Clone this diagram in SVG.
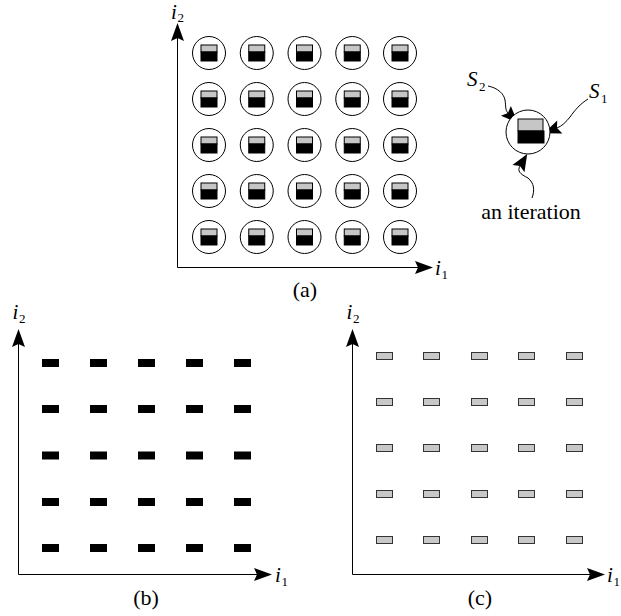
<svg xmlns="http://www.w3.org/2000/svg" width="621" height="616" viewBox="0 0 621 616">
  <style>
    .ax { fill: none; stroke: #000; stroke-width: 1; marker-start: url(#axHead); marker-end: url(#axHead); }
    .lead { fill: none; stroke: #000; stroke-width: 1; marker-end: url(#leadHead); }
    .ring { fill: #fff; stroke: #000; stroke-width: 1; }
    .s2 { fill: #c6c6c6; stroke: #000; stroke-width: 1; }
    .s1 { fill: #000; stroke: #000; stroke-width: 1; }
    .bb { fill: #000; }
    .cc { fill: #c8c8c8; stroke: #333; stroke-width: 1; }
    text { font-family: "Liberation Serif", "Times New Roman", Times, "DejaVu Serif", serif; fill: #000; }
    .var { font-style: italic; font-size: 21px; }
    .sub { font-size: 13px; }
    .cap { font-size: 22px; text-anchor: middle; }
    .note { font-size: 22px; text-anchor: middle; }
  </style>
  <defs>
    <!-- notched arrowhead; reference point sits at the notch -->
    <marker id="axHead" viewBox="-4 -8 21 16" refX="0" refY="0" markerWidth="21" markerHeight="16" orient="auto-start-reverse" markerUnits="userSpaceOnUse">
      <path d="M-3,-6.5 L15,0 L-3,6.5 L0,0 Z" fill="#000"/>
    </marker>
    <marker id="leadHead" viewBox="-4 -8 21 16" refX="0" refY="0" markerWidth="21" markerHeight="16" orient="auto" markerUnits="userSpaceOnUse">
      <path d="M-3,-7 L14,0 L-3,7 L0,0 Z" fill="#000"/>
    </marker>
    <g id="iter">
      <circle class="ring" r="16.5"/>
      <rect class="s2" x="-8" y="-8" width="16" height="7"/>
      <rect class="s1" x="-8" y="-1" width="16" height="9"/>
    </g>
    <rect id="bs" class="bb" width="17" height="8"/>
    <rect id="cs" class="cc" width="16" height="7"/>
  </defs>

  <!-- axes -->
  <g id="connectors">
    <path class="ax" d="M177.5,38 V267.5 H418"/>
    <path class="ax" d="M18.5,344 V574.5 H257"/>
    <path class="ax" d="M352.5,344 V574.5 H590"/>
    <!-- leaders of the legend -->
    <path class="lead" d="M488,86 C498,88 504,94 505,100 C506,106 505,110 508,113"/>
    <path class="lead" d="M588,99 C580,104 575,110 570,117 C566,122 562,126 557,128"/>
    <path class="lead" d="M532,198 C535,190 534,183 528,178 C520,174 517,171 520,166"/>
  </g>

  <!-- axis labels -->
  <g id="labels">
    <text class="var" x="171" y="19">i</text><text class="sub" x="177.5" y="22">2</text>
    <text class="var" x="435" y="275">i</text><text class="sub" x="441.5" y="279">1</text>
    <text class="var" x="12.5" y="319">i</text><text class="sub" x="19" y="323">2</text>
    <text class="var" x="275" y="582">i</text><text class="sub" x="281.5" y="586">1</text>
    <text class="var" x="346.5" y="319">i</text><text class="sub" x="353" y="323">2</text>
    <text class="var" x="607" y="582">i</text><text class="sub" x="613.5" y="586">1</text>
    <text class="cap" x="305" y="297">(a)</text>
    <text class="cap" x="146" y="605">(b)</text>
    <text class="cap" x="480" y="605">(c)</text>
  </g>

  <!-- (a) iteration space: each iteration holds S2 over S1 -->
  <g id="panel-a">
    <g id="a-r1">
      <use href="#iter" x="209" y="53"/><use href="#iter" x="256.75" y="53"/><use href="#iter" x="304.5" y="53"/><use href="#iter" x="352.25" y="53"/><use href="#iter" x="400" y="53"/>
    </g>
    <g id="a-r2">
      <use href="#iter" x="209" y="99"/><use href="#iter" x="256.75" y="99"/><use href="#iter" x="304.5" y="99"/><use href="#iter" x="352.25" y="99"/><use href="#iter" x="400" y="99"/>
    </g>
    <g id="a-r3">
      <use href="#iter" x="209" y="145"/><use href="#iter" x="256.75" y="145"/><use href="#iter" x="304.5" y="145"/><use href="#iter" x="352.25" y="145"/><use href="#iter" x="400" y="145"/>
    </g>
    <g id="a-r4">
      <use href="#iter" x="209" y="191"/><use href="#iter" x="256.75" y="191"/><use href="#iter" x="304.5" y="191"/><use href="#iter" x="352.25" y="191"/><use href="#iter" x="400" y="191"/>
    </g>
    <g id="a-r5">
      <use href="#iter" x="209" y="237"/><use href="#iter" x="256.75" y="237"/><use href="#iter" x="304.5" y="237"/><use href="#iter" x="352.25" y="237"/><use href="#iter" x="400" y="237"/>
    </g>
  </g>

  <!-- legend: one enlarged iteration -->
  <g id="legend">
    <circle class="ring" cx="528" cy="132" r="22"/>
    <rect class="s2" x="518" y="119" width="25" height="12"/>
    <rect class="s1" x="518" y="131" width="26" height="12"/>
    <text class="var" x="467" y="86">S</text><text class="sub" x="479" y="91">2</text>
    <text class="var" x="589" y="98">S</text><text class="sub" x="601" y="103">1</text>
    <text class="note" x="531" y="219">an iteration</text>
  </g>

  <!-- (b) S1 instances -->
  <g id="panel-b">
    <use href="#bs" x="42" y="359"/><use href="#bs" x="90" y="359"/><use href="#bs" x="138" y="359"/><use href="#bs" x="186" y="359"/><use href="#bs" x="234" y="359"/>
    <use href="#bs" x="42" y="405"/><use href="#bs" x="90" y="405"/><use href="#bs" x="138" y="405"/><use href="#bs" x="186" y="405"/><use href="#bs" x="234" y="405"/>
    <use href="#bs" x="42" y="451.5"/><use href="#bs" x="90" y="451.5"/><use href="#bs" x="138" y="451.5"/><use href="#bs" x="186" y="451.5"/><use href="#bs" x="234" y="451.5"/>
    <use href="#bs" x="42" y="498"/><use href="#bs" x="90" y="498"/><use href="#bs" x="138" y="498"/><use href="#bs" x="186" y="498"/><use href="#bs" x="234" y="498"/>
    <use href="#bs" x="42" y="544"/><use href="#bs" x="90" y="544"/><use href="#bs" x="138" y="544"/><use href="#bs" x="186" y="544"/><use href="#bs" x="234" y="544"/>
  </g>

  <!-- (c) S2 instances -->
  <g id="panel-c">
    <use href="#cs" x="376.5" y="352.5"/><use href="#cs" x="423.5" y="352.5"/><use href="#cs" x="471.5" y="352.5"/><use href="#cs" x="518.5" y="352.5"/><use href="#cs" x="566.5" y="352.5"/>
    <use href="#cs" x="376.5" y="398.5"/><use href="#cs" x="423.5" y="398.5"/><use href="#cs" x="471.5" y="398.5"/><use href="#cs" x="518.5" y="398.5"/><use href="#cs" x="566.5" y="398.5"/>
    <use href="#cs" x="376.5" y="444.5"/><use href="#cs" x="423.5" y="444.5"/><use href="#cs" x="471.5" y="444.5"/><use href="#cs" x="518.5" y="444.5"/><use href="#cs" x="566.5" y="444.5"/>
    <use href="#cs" x="376.5" y="490.5"/><use href="#cs" x="423.5" y="490.5"/><use href="#cs" x="471.5" y="490.5"/><use href="#cs" x="518.5" y="490.5"/><use href="#cs" x="566.5" y="490.5"/>
    <use href="#cs" x="376.5" y="536.5"/><use href="#cs" x="423.5" y="536.5"/><use href="#cs" x="471.5" y="536.5"/><use href="#cs" x="518.5" y="536.5"/><use href="#cs" x="566.5" y="536.5"/>
  </g>
</svg>
